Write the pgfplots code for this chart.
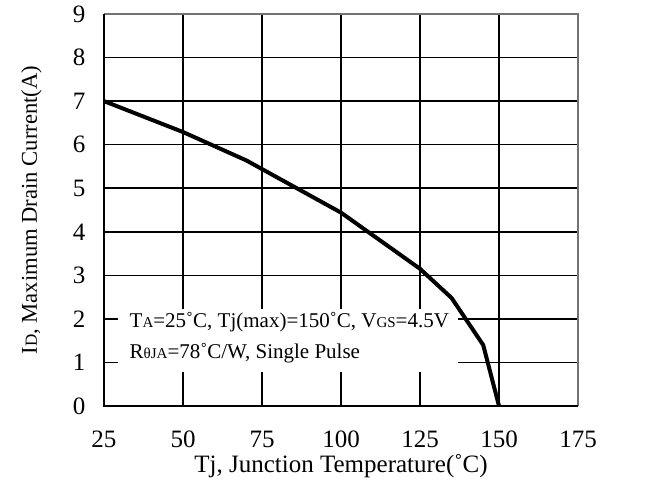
\documentclass[border=0pt]{standalone}
\usepackage{pgfplots}
\pgfplotsset{compat=1.18}
\usepackage{fontspec}
\setmainfont{Liberation Serif}
\newcommand{\sm}[1]{{\fontsize{8.5}{10}\selectfont #1}}
\newcommand{\smb}[1]{{\fontsize{7.5}{9}\selectfont #1}}
\begin{document}
\fontsize{12.5}{15}\selectfont
\begin{tikzpicture}
\begin{axis}[
    scale only axis,
    width=237pt, height=196pt,
    xmin=25, xmax=175, ymin=0, ymax=9,
    xtick={25,50,...,175}, ytick={0,1,...,9},
    grid=major,
    major grid style={black, line width=0.8pt},
    tick style={draw=none},
    axis line style={draw=none},
    xticklabel style={yshift=-8pt},
    yticklabel style={xshift=-5pt},
    /pgf/number format/assume math mode=true,
    xlabel={Tj, Junction Temperature(˚C)},
    ylabel={I\sm{D}, Maximum Drain Current(A)},
    xlabel style={yshift=5pt},
    ylabel style={yshift=7pt, font=\fontsize{11.3}{13}\selectfont},
    clip=false,
]
\fill[white] (axis cs:29.5,0.78) rectangle (axis cs:137,2.22);
\addplot[black, line width=2pt] coordinates {
    (25,7) (50,6.29) (70,5.64) (100,4.44) (125,3.15) (135,2.48) (145,1.4) (150,0)
};
\node[anchor=base west, inner sep=0, font=\fontsize{10.5}{12}\selectfont] at (axis cs:33,1.8)
    {T\smb{A}=25˚C, Tj(max)=150˚C, V\smb{GS}=4.5V};
\node[anchor=base west, inner sep=0, font=\fontsize{10.5}{12}\selectfont] at (axis cs:33,1.1)
    {R\smb{θJA}=78˚C/W, Single Pulse};
\draw[black!55, line width=0.8pt] (rel axis cs:0,1) -- (rel axis cs:1,1) -- (rel axis cs:1,0);
\draw[black, line width=1pt] (rel axis cs:0,1) -- (rel axis cs:0,0) -- (rel axis cs:1,0);
\coordinate (bl) at (rel axis cs:-0.2194,-0.1939);
\coordinate (tr) at (rel axis cs:1.1814,1.0357);
\end{axis}
\pgfresetboundingbox
\path[use as bounding box] (bl) rectangle (tr);
\end{tikzpicture}
\end{document}
